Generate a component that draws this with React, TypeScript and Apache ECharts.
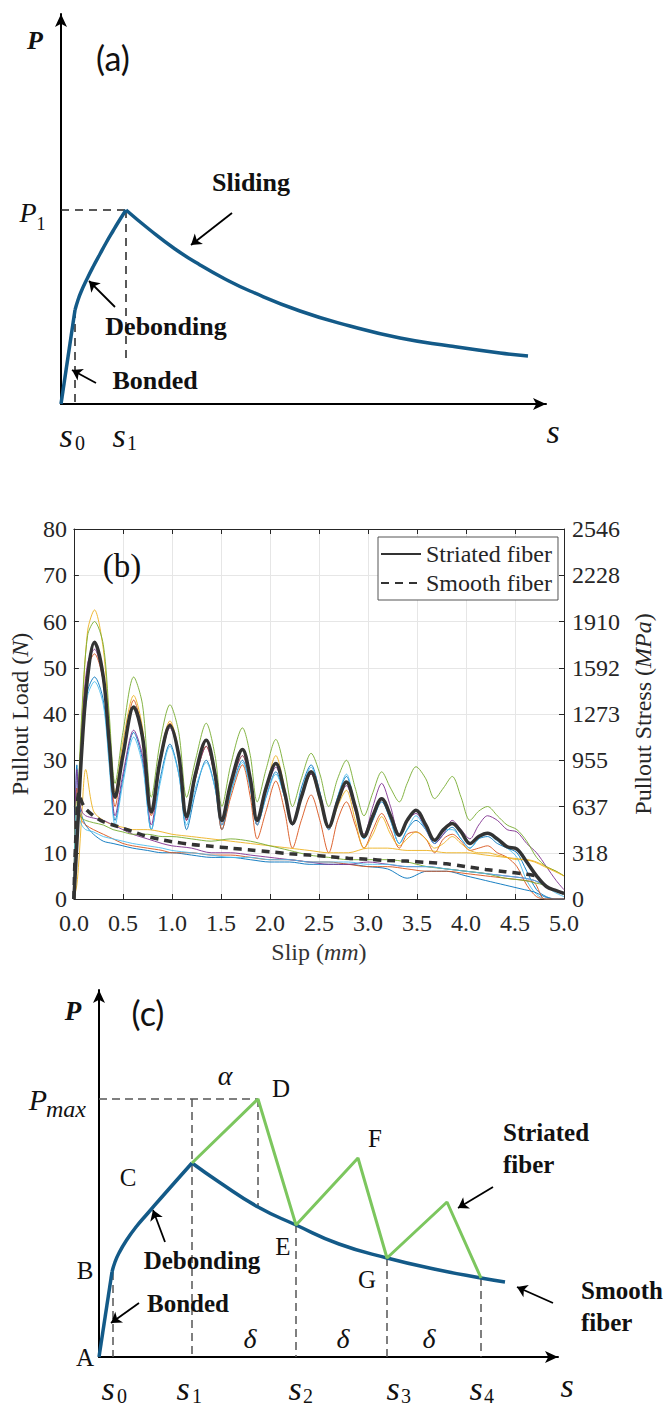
import React, { useEffect, useRef } from 'react';
import * as echarts from 'echarts';

// ---------- Panel (a): schematic P–s curve (units: px-like schematic units) ----------
const aBonded = [[0, 0], [14, 94]];
const aDebonding = [[14, 94], [17, 104], [20, 112], [26, 125], [32, 137], [39, 150], [45, 161], [52, 173], [58, 183], [65, 194]];
const aSliding = [[65, 194], [89, 174], [114, 155], [139, 139], [164, 125], [189, 113], [239, 93], [289, 78], [339, 66], [389, 58], [439, 51], [467, 48]];
const aDashed = [[[0, 194], [65, 194]], [[65, 194], [65, 41]], [[14, 94], [14, 0]]];
const aArrows = [[[171, 191], [130, 159]], [[54, 97], [28, 123]], [[35, 21], [11, 34]]];

// ---------- Panel (b): pullout test data ----------
const slipTicks = ['0.0', '0.5', '1.0', '1.5', '2.0', '2.5', '3.0', '3.5', '4.0', '4.5', '5.0'];
const loadTicks = ['0', '10', '20', '30', '40', '50', '60', '70', '80'];
const stressTicks = ['0', '318', '637', '955', '1273', '1592', '1910', '2228', '2546'];

const striatedX = [0, 0.03, 0.08, 0.14, 0.21, 0.3, 0.36, 0.42, 0.5, 0.61, 0.7, 0.79, 0.88, 0.98, 1.07, 1.15, 1.24, 1.35, 1.44, 1.51, 1.6, 1.72, 1.8, 1.87, 1.96, 2.06, 2.15, 2.23, 2.32, 2.42, 2.51, 2.6, 2.69, 2.78, 2.87, 2.96, 3.05, 3.14, 3.23, 3.32, 3.4, 3.49, 3.59, 3.68, 3.77, 3.86, 3.95, 4.04, 4.13, 4.22, 4.32, 4.42, 4.52, 4.62, 4.72, 4.82, 4.92, 5.0];
const striatedMean = [0, 12, 32, 48, 55.5, 48, 34, 22, 31, 41.5, 35, 18.8, 30, 37.5, 31, 17.8, 27, 34.3, 27, 17, 25, 32.3, 26, 17, 24, 29.3, 23, 16.3, 22, 27.5, 22, 15.6, 21, 25.3, 20, 13.5, 18, 21.7, 18, 13.8, 17, 19.2, 16, 12.7, 15, 16.3, 14.5, 12, 13.5, 14.2, 13, 11.3, 10.8, 8, 5, 2.7, 1.8, 1.2];
const striatedGreen = [0, 15, 40, 57, 60, 55, 40, 25, 36, 48, 42, 22, 34, 42, 36, 22, 30, 38, 31, 20, 29, 37, 31, 21, 28, 34.5, 28, 20, 26, 31.5, 27, 20, 26, 30, 24, 18, 23, 27.5, 24, 21, 25, 28.6, 26, 21.7, 24, 26.5, 22, 17, 19, 20, 18, 16, 15, 12.5, 9, 7, 6, 5];
const striatedYellow = [0, 14, 38, 58, 62.5, 54, 38, 23, 34, 44, 37, 19, 31, 38.5, 32, 18, 27, 33, 27, 16, 24, 31, 25, 16, 24, 31, 24, 16, 22, 27, 21, 15, 20, 23.5, 17, 11, 14, 17.8, 14, 11.5, 13, 14.5, 13, 11, 12, 13.5, 12, 10.5, 10, 10, 9.5, 9, 8.5, 8.5, 8, 7, 6, 5];
const striatedRed = [0, 13, 36, 50, 53, 47, 33, 20, 31, 43, 36, 18, 30, 38, 31, 17, 26, 33, 26, 15, 22, 29, 22, 13, 19, 25.5, 19, 11, 17, 22.5, 17, 10, 17, 21, 16, 11, 15, 18.5, 15, 11, 14, 14.5, 13, 10, 13, 14, 12.5, 10.5, 11, 11.5, 10, 9, 7, 3, 0.5, 0, 0, 0];
const striatedBlue = [0, 12, 33, 45, 48, 43, 30, 17, 26, 36, 30, 15, 26, 33.5, 27, 15, 23, 30, 24, 15, 23, 30, 24, 16, 22, 27.5, 22, 16, 24, 29, 23, 15, 22, 26.5, 20, 13, 17, 21, 17, 12, 15, 17, 15, 12, 14, 15.5, 13, 11, 13, 13.5, 12, 11, 10, 6, 2, 0.5, 0, 0];
const striatedPurple = [0, 13, 37, 51, 54, 47, 32, 18, 27, 36.5, 31, 16, 29, 37, 31, 17, 26, 33, 26, 16, 24, 31, 25, 16, 23, 28.5, 23, 16, 22, 27, 22, 15, 21, 24.5, 19, 14, 20, 25, 20, 14, 17, 18.5, 15, 12, 14, 17, 15, 13, 16, 18, 17, 15, 14.5, 12, 10, 7, 4, 2];
const striatedCyan = [0, 12, 33, 44, 47, 42, 29, 16, 25, 35, 29, 15, 25, 33, 27, 16, 24, 29.5, 24, 16, 23, 29.5, 24, 16, 22, 27, 22, 16, 23, 28.5, 23, 15, 22, 27, 20, 13, 18, 21.5, 17, 12, 15, 18, 15, 12, 15, 15, 13, 11, 13, 14, 12.5, 11, 9, 4, 1, 0, 0, 0];

const smoothX = [0, 0.01, 0.03, 0.05, 0.08, 0.12, 0.2, 0.3, 0.4, 0.5, 0.6, 0.75, 0.9, 1.0, 1.2, 1.4, 1.6, 1.8, 2.0, 2.2, 2.4, 2.6, 2.8, 3.0, 3.2, 3.4, 3.6, 3.8, 4.0, 4.2, 4.4, 4.6, 4.7, 4.8, 4.9, 5.0];
const smoothMean = [0, 8, 18, 23, 21, 19.5, 18, 16.7, 16, 15.3, 14.6, 13.5, 12.8, 12.4, 11.8, 11.4, 11, 10.6, 10.2, 9.8, 9.5, 9.2, 8.8, 8.6, 8.3, 8.2, 7.9, 7.6, 7, 6.4, 5.9, 5.4, 5.1, null, null, null];
const smoothBlue = [0, 15, 29, 21, 18, 16, 14, 12.5, 12, 11.5, 11, 10.5, 10, 10, 9.5, 9, 9, 8.5, 8, 8, 7.5, 7.5, 7.5, 7, 6.5, 4.5, 6, 6, 5, 4, 3, 2, 1.5, 0.5, 0, 0];
const smoothYellow = [0, 1, 3, 8, 18, 28, 19, 17, 16, 15.5, 15, 15, 14.5, 14, 13.5, 13, 12.5, 12, 11.5, 11, 10.5, 10, 10, 11, 11, 10.5, 10.5, 10, 10, 9.5, 9, 8.5, 8, 7, 6, 5];
const smoothGreen = [0, 14, 22, 19, 17.5, 17, 16.5, 16, 15, 14.5, 14, 14, 13.5, 13.5, 13, 12.5, 13, 12.5, 11.5, 10.5, 9.5, 9, 8.5, 8.5, 8.5, 8, 7, 6.5, 6, 5.5, 4.5, 4, 3.5, 3, 2, 1];
const smoothRed = [0, 14, 24, 20, 17, 16, 15, 14, 13, 12, 11.5, 11, 10.5, 10, 10, 9.5, 9.5, 9, 8.5, 8.5, 8, 8, 7.5, 7, 7, 6.5, 6, 6, 5.5, 5, 4.5, 4, 3.5, 0, 0, 0];
const smoothPurple = [0, 14, 28, 22, 19, 18, 17.5, 17, 16, 15, 14, 13, 12, 11.5, 11, 10, 10, 9.5, 9, 8.5, 8, 7.5, 7.5, 8, 7.5, 7, 7, 6.5, 6, 5.5, 5, 4.5, 4, 3, 2, 1];
const smoothCyan = [0, 12, 20, 18, 16, 15, 14.5, 13.5, 13, 12.5, 12, 11.5, 11, 10.5, 10, 9.5, 9, 9, 8.5, 8.5, 8, 8, 8, 7.5, 7.5, 7, 7, 6.5, 6, 5.5, 5, 4.5, 4, 3, 1.5, 0.5];

// ---------- Panel (c): schematic striated vs smooth ----------
const cBonded = [[0, 0], [13, 85]];
const cDebonding = [[13, 85], [16, 95], [20, 104], [27, 116], [37, 130], [49, 144], [62, 159], [77, 176], [93, 194]];
const cSmooth = [[93, 194], [120, 175], [159, 150], [197, 132], [240, 113], [288, 99], [335, 88], [382, 79], [406, 75]];
const cStriated = [[93, 194], [159, 258], [197, 132], [259, 199], [288, 99], [348, 155], [382, 79]];
const cDashed = [[[0, 258], [159, 258]], [[93, 258], [93, 0]], [[159, 258], [159, 150]], [[14, 85], [14, 0]], [[197, 132], [197, 0]], [[288, 99], [288, 0]], [[382, 79], [382, 0]]];
const cArrows = [[[66, 115], [54, 147]], [[40, 54], [12, 34]], [[394, 170], [359, 149]], [[454, 54], [418, 70]]];

const SERIF = '"Liberation Serif", "Times New Roman", serif';
const SANS = 'Lato, "Open Sans", sans-serif';
const BLUE = '#135A88';
const GREEN = '#7CC65E';
const AX = '#262626';

const pair = (xs: number[], ys: (number | null)[]) =>
  xs.map((x, i) => [x, ys[i]]).filter((p) => p[1] !== null);

function txt(x: number, y: number, text: string, size: number, o: any = {}) {
  return {
    type: 'text', x, y, silent: true, z: 100,
    style: {
      text, fontSize: size, fontFamily: o.family || SERIF,
      fontWeight: o.weight || 'normal', fontStyle: o.style || 'normal',
      fill: o.fill || '#111', align: o.align || 'center', verticalAlign: 'middle',
    },
  };
}

function schematicAxes(grid: number, xMax: number, yMax: number) {
  const line = {
    show: true, onZero: false, symbol: ['none', 'arrow'], symbolSize: [9, 13],
    lineStyle: { color: '#000', width: 2 },
  };
  return {
    x: { type: 'value', gridIndex: grid, min: 0, max: xMax, axisLine: line, axisTick: { show: false }, axisLabel: { show: false }, splitLine: { show: false } },
    y: { type: 'value', gridIndex: grid, min: 0, max: yMax, axisLine: line, axisTick: { show: false }, axisLabel: { show: false }, splitLine: { show: false } },
  };
}

function segs(list: number[][][], xi: number, yi: number, style: any, arrow: boolean) {
  return {
    type: 'lines', coordinateSystem: 'cartesian2d', xAxisIndex: xi, yAxisIndex: yi,
    symbol: arrow ? ['none', 'arrow'] : ['none', 'none'], symbolSize: 10,
    lineStyle: style, silent: true, z: 3,
    data: list.map((c) => ({ coords: c })),
  };
}

export default function App() {
  const ref = useRef<HTMLDivElement>(null);
  useEffect(() => {
    if (!ref.current) return;
    const chart = echarts.init(ref.current, null, { renderer: 'svg' });
    const A = schematicAxes(0, 485, 390);
    const C = schematicAxes(2, 459, 367);
    const tickFont = { fontFamily: SERIF, fontSize: 24, color: AX };
    const bBox = { show: true, onZero: false, lineStyle: { color: AX, width: 1 } };
    const bTick = { show: true, inside: true, length: 5, lineStyle: { color: AX } };
    const thin = (name: string, xs: number[], ys: (number | null)[], color: string) => ({
      name, type: 'line', xAxisIndex: 1, yAxisIndex: 1, data: pair(xs, ys), showSymbol: false, symbol: 'none',
      smooth: 0.3, lineStyle: { color, width: 1, opacity: 0.9 }, itemStyle: { color }, z: 2, silent: true,
    });
    const option: any = {
      animation: false,
      backgroundColor: '#fff',
      grid: [
        { left: 61, top: 14, width: 485, height: 390 },
        { left: 70, top: 529, width: 494, height: 370 },
        { left: 99, top: 990, width: 459, height: 367 },
      ],
      xAxis: [
        A.x,
        {
          type: 'value', gridIndex: 1, min: 0, max: 5, interval: 0.5,
          axisLine: bBox, axisTick: bTick,
          axisLabel: { ...tickFont, margin: 12, formatter: (v: number) => slipTicks[Math.round(v / 0.5)] },
          splitLine: { show: true, lineStyle: { color: '#e6e6e6', width: 1 } },
          name: '{r|Slip (}{i|mm}{r|)}', nameLocation: 'middle', nameGap: 41,
          nameTextStyle: { rich: { r: { ...tickFont, color: '#333' }, i: { ...tickFont, color: '#333', fontStyle: 'italic' } } },
        },
        {
          type: 'value', gridIndex: 1, position: 'top', min: 0, max: 5, interval: 0.5,
          axisLine: bBox, axisTick: bTick, axisLabel: { show: false }, splitLine: { show: false },
        },
        C.x,
      ],
      yAxis: [
        A.y,
        {
          type: 'value', gridIndex: 1, min: 0, max: 80, interval: 10,
          axisLine: bBox, axisTick: bTick,
          axisLabel: { ...tickFont, margin: 7, formatter: (v: number) => loadTicks[Math.round(v / 10)] },
          splitLine: { show: true, lineStyle: { color: '#e6e6e6', width: 1 } },
          name: '{r|Pullout Load (}{i|N}{r|)}', nameLocation: 'middle', nameGap: 36, nameRotate: 90,
          nameTextStyle: { rich: { r: { ...tickFont }, i: { ...tickFont, fontStyle: 'italic' } } },
        },
        {
          type: 'value', gridIndex: 1, position: 'right', min: 0, max: 80, interval: 10,
          axisLine: bBox, axisTick: bTick,
          axisLabel: { ...tickFont, margin: 8, formatter: (v: number) => stressTicks[Math.round(v / 10)] },
          splitLine: { show: false },
          name: '{r|Pullout Stress (}{i|MPa}{r|)}', nameLocation: 'middle', nameGap: 66, nameRotate: 90,
          nameTextStyle: { rich: { r: { ...tickFont }, i: { ...tickFont, fontStyle: 'italic' } } },
        },
        C.y,
      ],
      legend: {
        data: ['Striated fiber', 'Smooth fiber'], orient: 'vertical', left: 378, top: 537,
        backgroundColor: '#fff', borderColor: '#555', borderWidth: 1, borderRadius: 0,
        padding: [4, 6, 4, 2], itemWidth: 40, itemHeight: 14, itemGap: 3, selectedMode: false,
        itemStyle: { opacity: 0, borderWidth: 0 },
        textStyle: { fontFamily: SERIF, fontSize: 24, color: AX, lineHeight: 26 },
      },
      series: [
        // Panel (a)
        { type: 'line', xAxisIndex: 0, yAxisIndex: 0, data: aBonded, showSymbol: false, symbol: 'none', lineStyle: { color: BLUE, width: 3.5 }, z: 4, silent: true },
        { type: 'line', xAxisIndex: 0, yAxisIndex: 0, data: aDebonding, smooth: true, showSymbol: false, symbol: 'none', lineStyle: { color: BLUE, width: 3.5 }, z: 4, silent: true },
        { type: 'line', xAxisIndex: 0, yAxisIndex: 0, data: aSliding, smooth: true, showSymbol: false, symbol: 'none', lineStyle: { color: BLUE, width: 3.5 }, z: 4, silent: true },
        segs(aDashed, 0, 0, { color: '#222', width: 1.5, type: [8, 6], opacity: 1 }, false),
        segs(aArrows, 0, 0, { color: '#000', width: 1.8, type: 'solid', opacity: 1 }, true),
        // Panel (b) thin specimen curves
        thin('s-blue', striatedX, striatedBlue, '#0072BD'),
        thin('s-red', striatedX, striatedRed, '#D95319'),
        thin('s-yellow', striatedX, striatedYellow, '#EDB120'),
        thin('s-purple', striatedX, striatedPurple, '#7E2F8E'),
        thin('s-green', striatedX, striatedGreen, '#77AC30'),
        thin('s-cyan', striatedX, striatedCyan, '#4DBEEE'),
        thin('m-blue', smoothX, smoothBlue, '#0072BD'),
        thin('m-red', smoothX, smoothRed, '#D95319'),
        thin('m-yellow', smoothX, smoothYellow, '#EDB120'),
        thin('m-purple', smoothX, smoothPurple, '#7E2F8E'),
        thin('m-green', smoothX, smoothGreen, '#77AC30'),
        thin('m-cyan', smoothX, smoothCyan, '#4DBEEE'),
        {
          name: 'Striated fiber', type: 'line', xAxisIndex: 1, yAxisIndex: 1, data: pair(striatedX, striatedMean),
          smooth: 0.35, showSymbol: false, symbol: 'none', lineStyle: { color: '#333', width: 3.5 }, itemStyle: { color: '#333' }, z: 5, silent: true,
        },
        {
          name: 'Smooth fiber', type: 'line', xAxisIndex: 1, yAxisIndex: 1, data: pair(smoothX, smoothMean),
          smooth: 0.3, showSymbol: false, symbol: 'none', lineStyle: { color: '#333', width: 3.5, type: [8, 6] }, itemStyle: { color: '#333' }, z: 5, silent: true,
        },
        // Panel (c)
        segs(cDashed, 3, 3, { color: '#555', width: 1.5, type: [8, 5], opacity: 1 }, false),
        { type: 'line', xAxisIndex: 3, yAxisIndex: 3, data: cBonded, showSymbol: false, symbol: 'none', lineStyle: { color: BLUE, width: 3.5 }, z: 4, silent: true },
        { type: 'line', xAxisIndex: 3, yAxisIndex: 3, data: cDebonding, smooth: true, showSymbol: false, symbol: 'none', lineStyle: { color: BLUE, width: 3.5 }, z: 4, silent: true },
        { type: 'line', xAxisIndex: 3, yAxisIndex: 3, data: cSmooth, smooth: true, showSymbol: false, symbol: 'none', lineStyle: { color: BLUE, width: 3.5 }, z: 4, silent: true },
        { type: 'line', xAxisIndex: 3, yAxisIndex: 3, data: cStriated, showSymbol: false, symbol: 'none', lineStyle: { color: GREEN, width: 3 }, z: 5, silent: true },
        segs(cArrows, 3, 3, { color: '#000', width: 1.8, type: 'solid', opacity: 1 }, true),
      ],
      graphic: [
        // Panel (a)
        txt(35, 40, 'P', 26, { weight: 'bold', style: 'italic' }),
        txt(113, 57, '(a)', 34, { family: SANS }),
        txt(28, 212, 'P', 28, { style: 'italic' }),
        txt(41, 224, '1', 18),
        txt(251, 182, 'Sliding', 26, { weight: 'bold' }),
        txt(166, 326, 'Debonding', 26, { weight: 'bold' }),
        txt(155, 380, 'Bonded', 26, { weight: 'bold' }),
        txt(66, 435, 's', 34, { style: 'italic' }),
        txt(80, 443, '0', 20),
        txt(119, 435, 's', 34, { style: 'italic' }),
        txt(132, 443, '1', 20),
        txt(553, 431, 's', 34, { style: 'italic' }),
        // Panel (b)
        txt(122, 566, '(b)', 33, { fill: '#111' }),
        // Panel (c)
        txt(73, 1011, 'P', 27, { weight: 'bold', style: 'italic' }),
        txt(148, 1012, '(c)', 34, { family: SANS }),
        txt(38, 1099, 'P', 30, { style: 'italic' }),
        txt(66, 1109, 'max', 24, { style: 'italic' }),
        txt(225, 1075, 'α', 28, { style: 'italic' }),
        txt(281, 1088, 'D', 25),
        txt(128, 1177, 'C', 25),
        txt(85, 1270, 'B', 25),
        txt(85, 1357, 'A', 25),
        txt(283, 1246, 'E', 25),
        txt(375, 1138, 'F', 25),
        txt(367, 1279, 'G', 25),
        txt(250, 1338, 'δ', 28, { style: 'italic' }),
        txt(343, 1338, 'δ', 28, { style: 'italic' }),
        txt(429, 1338, 'δ', 28, { style: 'italic' }),
        txt(202, 1260, 'Debonding', 25, { weight: 'bold' }),
        txt(188, 1303, 'Bonded', 25, { weight: 'bold' }),
        txt(503, 1132, 'Striated', 25, { weight: 'bold', align: 'left' }),
        txt(503, 1164, 'fiber', 25, { weight: 'bold', align: 'left' }),
        txt(581, 1290, 'Smooth', 25, { weight: 'bold', align: 'left' }),
        txt(581, 1322, 'fiber', 25, { weight: 'bold', align: 'left' }),
        txt(108, 1388, 's', 34, { style: 'italic' }),
        txt(122, 1396, '0', 20),
        txt(183, 1388, 's', 34, { style: 'italic' }),
        txt(197, 1396, '1', 20),
        txt(295, 1388, 's', 34, { style: 'italic' }),
        txt(308, 1396, '2', 20),
        txt(393, 1388, 's', 34, { style: 'italic' }),
        txt(406, 1396, '3', 20),
        txt(476, 1388, 's', 34, { style: 'italic' }),
        txt(489, 1396, '4', 20),
        txt(567, 1385, 's', 34, { style: 'italic' }),
      ],
    };
    chart.setOption(option);
    return () => chart.dispose();
  }, []);
  return (
    <div
      ref={ref}
      style={{ position: 'fixed', left: 0, top: 0, width: 671, height: 1406, background: '#fff' }}
    />
  );
}
